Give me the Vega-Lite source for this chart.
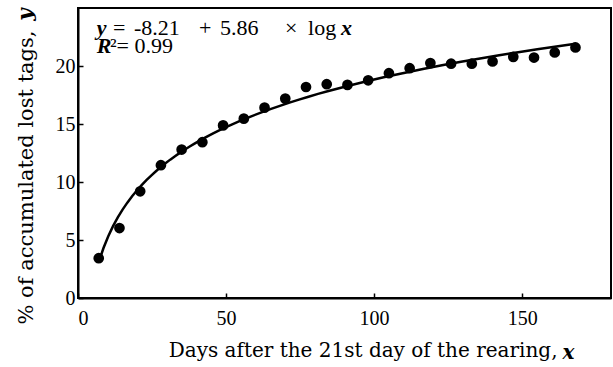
{
  "$schema": "https://vega.github.io/schema/vega-lite/v6.json",
  "width": 533,
  "height": 290,
  "autosize": {"type": "none"},
  "padding": {"left": 78, "top": 8, "right": 2, "bottom": 69},
  "background": "white",
  "config": {
    "font": "Liberation Serif",
    "view": {"stroke": "black", "strokeWidth": 2},
    "axis": {
      "domainColor": "black",
      "domainWidth": 2,
      "tickColor": "black",
      "tickWidth": 1.5,
      "tickSize": -5,
      "grid": false,
      "labelFont": "Liberation Serif",
      "labelFontSize": 20,
      "labelColor": "black",
      "titleFont": "DejaVu Serif",
      "titleFontSize": 20,
      "titleFontWeight": "normal",
      "titleColor": "black"
    }
  },
  "datasets": {
    "tags": [
      {"x": 7, "y": 3.43},
      {"x": 14, "y": 6.03},
      {"x": 21, "y": 9.2},
      {"x": 28, "y": 11.45},
      {"x": 35, "y": 12.8},
      {"x": 42, "y": 13.43},
      {"x": 49, "y": 14.88},
      {"x": 56, "y": 15.46},
      {"x": 63, "y": 16.41},
      {"x": 70, "y": 17.19},
      {"x": 77, "y": 18.19},
      {"x": 84, "y": 18.43},
      {"x": 91, "y": 18.37},
      {"x": 98, "y": 18.77},
      {"x": 105, "y": 19.38},
      {"x": 112, "y": 19.81},
      {"x": 119, "y": 20.25},
      {"x": 126, "y": 20.2},
      {"x": 133, "y": 20.2},
      {"x": 140, "y": 20.39},
      {"x": 147, "y": 20.79},
      {"x": 154, "y": 20.73},
      {"x": 161, "y": 21.17},
      {"x": 168, "y": 21.6}
    ]
  },
  "encoding": {
    "x": {
      "field": "x",
      "type": "quantitative",
      "scale": {"domain": [0, 180], "nice": false},
      "axis": {
        "values": [0, 50, 100, 150],
        "labelPadding": 15,
        "title": "Days after the 21st day of the rearing,",
        "titleX": 479,
        "titleY": 42,
        "titleAlign": "right",
        "titleAnchor": null,
        "titleBaseline": "top"
      }
    },
    "y": {
      "field": "y",
      "type": "quantitative",
      "scale": {"domain": [0, 25], "nice": false},
      "axis": {
        "values": [0, 5, 10, 15, 20],
        "labelPadding": 8,
        "title": "% of accumulated lost tags,",
        "titleFontSize": 21,
        "titleAngle": 270,
        "titleX": -42,
        "titleY": 22,
        "titleAlign": "right",
        "titleBaseline": "bottom"
      }
    }
  },
  "layer": [
    {
      "data": {"name": "tags"},
      "transform": [{"regression": "y", "on": "x", "method": "log"}],
      "mark": {"type": "line", "color": "black", "strokeWidth": 2.5}
    },
    {
      "data": {"name": "tags"},
      "mark": {"type": "circle", "color": "black", "opacity": 1, "size": 115}
    },
    {
      "data": {"values": [{"x": 6.31, "y": 22.67, "t": "y"}, {"x": 88.8, "y": 22.67, "t": "x"}, {"x": 6.31, "y": 21.1, "t": "R"}]},
      "mark": {"type": "text", "align": "left", "baseline": "alphabetic", "font": "Liberation Serif", "fontSize": 22, "fontWeight": "bold", "fontStyle": "italic", "color": "black"},
      "encoding": {"text": {"field": "t"}}
    },
    {
      "data": {"values": [{"x": 163.6, "y": -5.25, "t": "x"}]},
      "mark": {"type": "text", "align": "left", "baseline": "alphabetic", "font": "DejaVu Serif", "fontSize": 20, "fontWeight": "bold", "fontStyle": "italic", "color": "black"},
      "encoding": {"text": {"field": "t"}}
    },
    {
      "data": {"values": [
        {"x": 11.82, "y": 22.67, "t": "="},
        {"x": 18.9, "y": 22.67, "t": "-8.21"},
        {"x": 40.9, "y": 22.67, "t": "+"},
        {"x": 47.96, "y": 22.67, "t": "5.86"},
        {"x": 69.9, "y": 22.67, "t": "×"},
        {"x": 77.68, "y": 22.67, "t": "log"},
        {"x": 10.8, "y": 21.1, "t": "²= 0.99"}
      ]},
      "mark": {"type": "text", "align": "left", "baseline": "alphabetic", "font": "Liberation Serif", "fontSize": 22, "color": "black"},
      "encoding": {"text": {"field": "t"}}
    },
    {
      "data": {"values": [{"x": -14.2, "y": 23.9, "t": "y"}]},
      "mark": {"type": "text", "align": "left", "baseline": "bottom", "angle": 270, "font": "DejaVu Serif", "fontSize": 21, "fontWeight": "bold", "fontStyle": "italic", "color": "black"},
      "encoding": {"text": {"field": "t"}}
    }
  ]
}
